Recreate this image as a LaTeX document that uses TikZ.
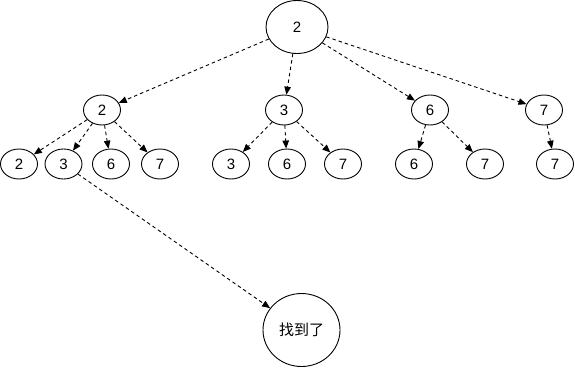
\documentclass[tikz,border=0pt]{standalone}
\usepackage{fontspec}
\setmainfont{Liberation Sans}
\newfontfamily\cjk{Noto Sans CJK SC}
\usetikzlibrary{shapes.geometric,arrows.meta}
\begin{document}
\begin{tikzpicture}[x=1pt,y=-1pt,
  nd/.style={ellipse,draw,line width=0.9pt,inner sep=0pt,minimum width=37pt,minimum height=30pt,font=\fontsize{15}{15}\selectfont},
  rootnd/.style={nd,minimum width=62pt,minimum height=53pt},
  foundnd/.style={nd,minimum width=77pt,minimum height=73pt,font=\cjk\fontsize{15}{15}\selectfont},
  edge/.style={draw,line width=0.9pt,dash pattern=on 3.5pt off 3pt,-{Triangle[length=8pt,width=6.5pt]}}
]
\useasboundingbox (0,0) rectangle (575,368);
\node[rootnd] (r) at (297,27) {2};
\node[nd] (a) at (102,110) {2};
\node[nd] (b) at (284,110) {3};
\node[nd] (c) at (430,110) {6};
\node[nd] (d) at (544,110) {7};
\node[nd] (a1) at (19,164) {2};
\node[nd] (a2) at (63.5,164) {3};
\node[nd] (a3) at (111,164) {6};
\node[nd] (a4) at (160,164) {7};
\node[nd] (b1) at (231,164) {3};
\node[nd] (b2) at (287,164) {6};
\node[nd] (b3) at (343,164) {7};
\node[nd] (c1) at (414,164) {6};
\node[nd] (c2) at (485,164) {7};
\node[nd] (d1) at (555,164) {7};
\node[foundnd] (f) at (301.5,330) {找到了};
\path[edge] (r) -- (a);
\path[edge] (r) -- (b);
\path[edge] (r) -- (c);
\path[edge] (r) -- (d);
\path[edge] (a) -- (a1);
\path[edge] (a) -- (a2);
\path[edge] (a) -- (a3);
\path[edge] (a) -- (a4);
\path[edge] (b) -- (b1);
\path[edge] (b) -- (b2);
\path[edge] (b) -- (b3);
\path[edge] (c) -- (c1);
\path[edge] (c) -- (c2);
\path[edge] (d) -- (d1);
\path[edge] (a2) -- (f);
\end{tikzpicture}
\end{document}
